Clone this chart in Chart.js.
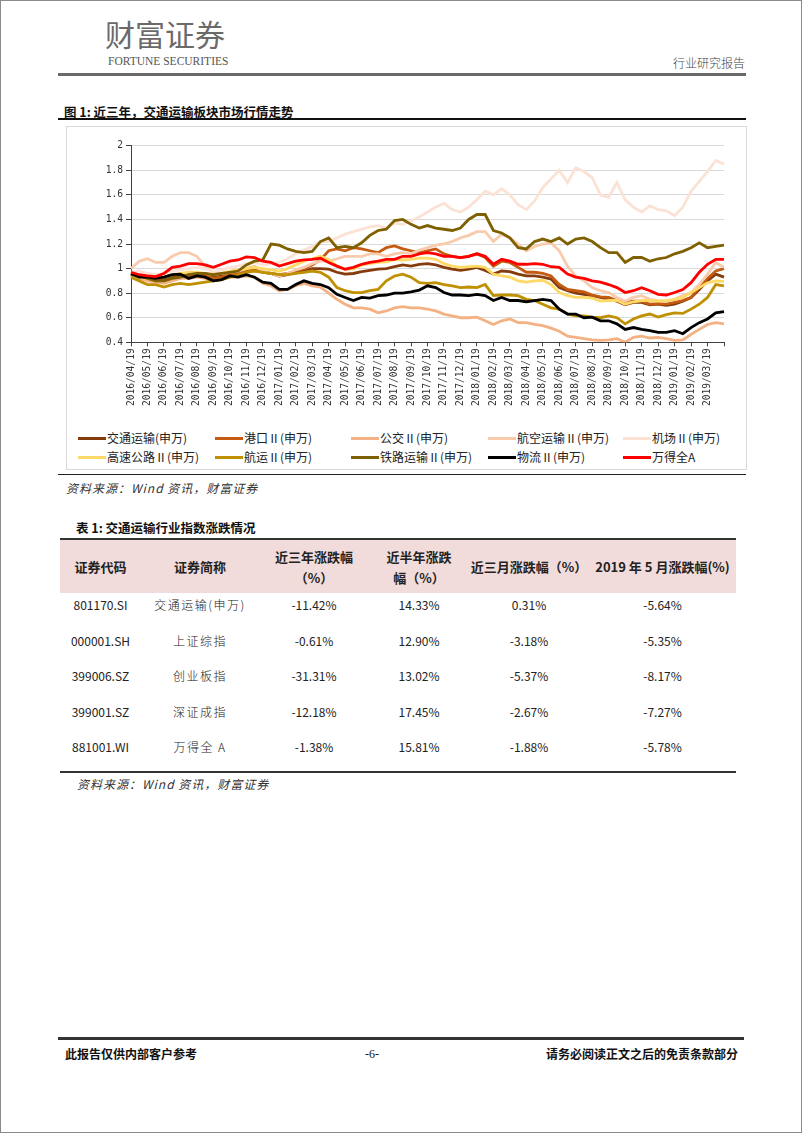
<!DOCTYPE html>
<html>
<head>
<meta charset="utf-8">
<script src="https://cdn.jsdelivr.net/npm/chart.js@4.4.1/dist/chart.umd.min.js"></script>
<style>
body { margin:0; background:#fff; font-family:"Noto Sans CJK SC", sans-serif; color:#222; }
#page { position:relative; width:800px; height:1131px; border:1px solid #8a8a8a; overflow:hidden; background:#fff; }
.abs { position:absolute; white-space:nowrap; }
.rule { position:absolute; }
#chartbox { position:absolute; left:65px; top:125px; width:679px; height:342px; border:1px solid #d9d9d9; }
#myChart { position:absolute; left:0px; top:0px; }
.leg { position:absolute; font-size:12px; line-height:16px; color:#222; white-space:nowrap; }
.leg span.sw { display:inline-block; width:28px; height:3px; vertical-align:middle; margin-right:1px; position:relative; top:-1px; }
.src { font-size:12px; font-style:italic; letter-spacing:1px; color:#333; }
table { border-collapse:collapse; table-layout:fixed; }
th { background:#f2dcdb; font-size:13px; font-weight:700; line-height:21px; height:53px; padding:0; text-align:center; vertical-align:middle; }
td { font-size:12px; line-height:16px; height:35.5px; padding:4px 0 0 0; text-align:center; vertical-align:top; box-sizing:border-box; }
td.nm { letter-spacing:1.5px; font-weight:300; }
</style>
</head>
<body>
<div id="page">
  <div class="abs" style="left:104px;top:15px;font-size:30px;line-height:34px;color:#6a6a6a;">财富证券</div>
  <div class="abs" style="left:107px;top:53px;font-family:'Liberation Serif',serif;font-size:11.5px;line-height:14px;color:#555;">FORTUNE SECURITIES</div>
  <div class="abs" style="left:672px;top:54px;font-size:12px;line-height:16px;color:#444;font-weight:300;">行业研究报告</div>
  <div class="rule" style="left:57px;top:72px;width:688px;height:3px;background:#6a6a6a;"></div>

  <div class="abs" style="left:63px;top:102px;font-size:12.5px;line-height:17px;font-weight:700;color:#111;">图 1: 近三年，交通运输板块市场行情走势</div>
  <div class="rule" style="left:57px;top:117px;width:688px;height:2px;background:#111;"></div>

  <div id="chartbox">
    <canvas id="myChart" width="678" height="300"></canvas>
    <div id="legend"></div>
  </div>

  <div class="rule" style="left:57px;top:473px;width:688px;height:1px;background:#222;"></div>
  <div class="abs src" style="left:65px;top:479px;line-height:16px;">资料来源：Wind 资讯，财富证券</div>

  <div class="abs" style="left:75px;top:518px;font-size:12.5px;line-height:17px;font-weight:700;color:#111;">表 1: 交通运输行业指数涨跌情况</div>
  <div class="rule" style="left:59px;top:537px;width:676px;height:2px;background:#333;"></div>
  <table id="tbl" class="abs" style="left:59px;top:539px;width:676px;"></table>
  <div class="rule" style="left:59px;top:770px;width:676px;height:2px;background:#333;"></div>
  <div class="abs src" style="left:76px;top:775px;line-height:16px;">资料来源：Wind 资讯，财富证券</div>

  <div class="rule" style="left:57px;top:1036px;width:686px;height:3px;background:#333;"></div>
  <div class="abs" style="left:64px;top:1045px;font-size:12px;line-height:16px;font-weight:700;color:#111;">此报告仅供内部客户参考</div>
  <div class="abs" style="left:364px;top:1045px;font-family:'Liberation Serif',serif;font-size:12px;line-height:16px;color:#111;">-6-</div>
  <div class="abs" style="left:545px;top:1045px;font-size:12px;line-height:16px;font-weight:700;color:#111;">请务必阅读正文之后的免责条款部分</div>
</div>

<script>
// x categories, half-month steps
var dates = [
  '2016/04/19','2016/05/04','2016/05/19','2016/06/04','2016/06/19','2016/07/04','2016/07/19','2016/08/04',
  '2016/08/19','2016/09/04','2016/09/19','2016/10/04','2016/10/19','2016/11/04','2016/11/19','2016/12/04',
  '2016/12/19','2017/01/04','2017/01/19','2017/02/04','2017/02/19','2017/03/04','2017/03/19','2017/04/04',
  '2017/04/19','2017/05/04','2017/05/19','2017/06/04','2017/06/19','2017/07/04','2017/07/19','2017/08/04',
  '2017/08/19','2017/09/04','2017/09/19','2017/10/04','2017/10/19','2017/11/04','2017/11/19','2017/12/04',
  '2017/12/19','2018/01/04','2018/01/19','2018/02/04','2018/02/19','2018/03/04','2018/03/19','2018/04/04',
  '2018/04/19','2018/05/04','2018/05/19','2018/06/04','2018/06/19','2018/07/04','2018/07/19','2018/08/04',
  '2018/08/19','2018/09/04','2018/09/19','2018/10/04','2018/10/19','2018/11/04','2018/11/19','2018/12/04',
  '2018/12/19','2019/01/04','2019/01/19','2019/02/04','2019/02/19','2019/03/04','2019/03/19','2019/04/04',
  '2019/04/19'
];

var jtys = [0.95,0.93,0.92,0.91,0.91,0.93,0.94,0.95,0.95,0.94,0.93,0.94,0.96,0.97,0.99,1.0,0.97,0.96,0.94,0.95,0.97,0.98,1.0,1.0,
  0.995,0.97,0.955,0.96,0.975,0.985,0.995,1.0,1.015,1.03,1.02,1.035,1.04,1.03,1.01,0.995,0.985,0.995,1.01,0.985,0.955,0.98,0.975,0.955,
  0.94,0.94,0.93,0.915,0.845,0.82,0.8,0.79,0.78,0.765,0.75,0.735,0.705,0.725,0.725,0.705,0.71,0.7,0.71,0.735,0.765,0.83,0.9,0.955,0.93];
var gangkou = [0.95,0.93,0.91,0.9,0.9,0.92,0.93,0.94,0.95,0.94,0.92,0.93,0.95,0.96,0.98,1.0,0.97,0.96,0.95,0.96,0.98,1.0,1.03,1.07,
  1.145,1.16,1.145,1.17,1.16,1.145,1.13,1.17,1.185,1.16,1.145,1.13,1.145,1.16,1.12,1.1,1.09,1.1,1.12,1.09,1.02,1.06,1.05,1.01,
  0.97,0.97,0.96,0.94,0.87,0.83,0.82,0.81,0.785,0.77,0.765,0.74,0.725,0.735,0.735,0.71,0.715,0.71,0.725,0.74,0.765,0.85,0.92,0.98,1.0];
var gongjiao = [0.94,0.92,0.9,0.89,0.88,0.9,0.92,0.92,0.93,0.92,0.9,0.91,0.93,0.93,0.94,0.93,0.88,0.86,0.82,0.83,0.86,0.88,0.86,0.85,
  0.8,0.75,0.71,0.68,0.68,0.67,0.64,0.655,0.68,0.69,0.68,0.68,0.67,0.655,0.63,0.615,0.6,0.6,0.605,0.575,0.545,0.575,0.59,0.56,
  0.56,0.545,0.535,0.515,0.49,0.45,0.44,0.43,0.42,0.415,0.42,0.43,0.4,0.44,0.45,0.435,0.44,0.43,0.415,0.42,0.465,0.505,0.545,0.56,0.55];
var hangkong = [1.0,1.06,1.08,1.05,1.05,1.1,1.13,1.13,1.1,1.02,0.97,0.96,0.97,0.98,1.0,1.02,0.98,0.96,0.94,0.96,0.99,1.01,1.04,1.06,
  1.06,1.08,1.1,1.1,1.1,1.12,1.12,1.1,1.12,1.13,1.12,1.15,1.17,1.19,1.2,1.22,1.25,1.27,1.3,1.3,1.22,1.28,1.25,1.2,
  1.145,1.18,1.2,1.21,1.145,1.02,0.94,0.9,0.845,0.82,0.805,0.765,0.735,0.765,0.78,0.75,0.74,0.735,0.75,0.78,0.805,0.87,0.955,1.05,1.01];
var jichang = [0.97,0.98,0.96,0.95,0.96,0.98,0.99,1.0,1.01,1.0,0.98,0.99,1.01,1.02,1.04,1.05,1.03,1.04,1.05,1.08,1.12,1.15,1.18,1.22,
  1.22,1.25,1.28,1.3,1.32,1.34,1.35,1.33,1.37,1.36,1.39,1.42,1.46,1.5,1.53,1.48,1.46,1.5,1.56,1.63,1.6,1.65,1.6,1.52,
  1.48,1.55,1.66,1.73,1.8,1.7,1.82,1.79,1.74,1.6,1.58,1.7,1.56,1.5,1.46,1.51,1.48,1.47,1.43,1.5,1.63,1.71,1.79,1.88,1.85];
var gaosu = [0.95,0.93,0.92,0.92,0.93,0.95,0.96,0.97,0.97,0.96,0.95,0.96,0.98,0.99,1.0,1.01,1.0,0.99,0.98,1.0,1.03,1.06,1.08,1.1,
  1.075,1.02,0.995,0.995,1.03,1.04,1.05,1.055,1.075,1.07,1.075,1.085,1.085,1.075,1.04,1.02,1.01,1.015,1.02,1.01,0.955,0.94,0.93,0.9,
  0.89,0.9,0.905,0.87,0.805,0.78,0.765,0.765,0.76,0.735,0.74,0.74,0.71,0.73,0.74,0.74,0.735,0.74,0.75,0.765,0.805,0.845,0.885,0.9,0.895];
var hangyun = [0.93,0.9,0.87,0.87,0.85,0.87,0.88,0.87,0.88,0.89,0.9,0.91,0.93,0.95,0.97,0.98,0.97,0.96,0.95,0.95,0.96,0.97,0.98,0.97,
  0.93,0.845,0.82,0.805,0.805,0.82,0.83,0.9,0.94,0.955,0.93,0.885,0.88,0.885,0.87,0.86,0.845,0.85,0.845,0.87,0.78,0.785,0.785,0.78,
  0.75,0.74,0.71,0.68,0.67,0.63,0.615,0.615,0.605,0.6,0.615,0.6,0.55,0.59,0.615,0.63,0.605,0.625,0.64,0.635,0.67,0.71,0.765,0.87,0.86];
var tielu = [0.95,0.94,0.92,0.9,0.9,0.92,0.93,0.95,0.96,0.96,0.95,0.96,0.97,0.98,1.03,1.06,1.07,1.2,1.19,1.16,1.14,1.13,1.14,1.22,
  1.25,1.17,1.18,1.17,1.21,1.27,1.31,1.32,1.39,1.4,1.36,1.33,1.35,1.33,1.32,1.31,1.33,1.4,1.44,1.44,1.31,1.29,1.25,1.17,
  1.16,1.22,1.24,1.22,1.25,1.2,1.24,1.25,1.22,1.17,1.13,1.13,1.05,1.09,1.09,1.06,1.08,1.09,1.12,1.14,1.17,1.21,1.17,1.18,1.19];
var wuliu = [0.96,0.93,0.93,0.92,0.93,0.95,0.955,0.92,0.94,0.93,0.9,0.91,0.94,0.93,0.95,0.93,0.89,0.88,0.83,0.83,0.87,0.9,0.88,0.87,
  0.845,0.79,0.765,0.74,0.765,0.76,0.78,0.785,0.8,0.8,0.81,0.825,0.86,0.845,0.805,0.785,0.785,0.78,0.79,0.78,0.74,0.765,0.74,0.74,
  0.73,0.74,0.75,0.74,0.67,0.63,0.63,0.6,0.605,0.575,0.575,0.55,0.505,0.52,0.505,0.495,0.48,0.48,0.495,0.47,0.52,0.56,0.59,0.64,0.65];
var wdqa = [0.97,0.95,0.94,0.935,0.96,1.01,1.02,1.04,1.04,1.03,1.01,1.035,1.06,1.07,1.095,1.09,1.06,1.05,1.02,1.04,1.06,1.07,1.075,1.085,
  1.05,1.02,0.995,1.01,1.035,1.05,1.06,1.075,1.075,1.1,1.1,1.12,1.13,1.12,1.1,1.1,1.09,1.1,1.12,1.1,1.035,1.075,1.06,1.035,
  1.035,1.04,1.035,1.015,1.01,0.955,0.93,0.92,0.9,0.89,0.87,0.845,0.805,0.82,0.845,0.82,0.79,0.785,0.805,0.83,0.885,0.97,1.035,1.075,1.075];

var seriesNames = ['交通运输(申万)','港口Ⅱ(申万)','公交Ⅱ(申万)','航空运输Ⅱ(申万)','机场Ⅱ(申万)',
  '高速公路Ⅱ(申万)','航运Ⅱ(申万)','铁路运输Ⅱ(申万)','物流Ⅱ(申万)','万得全A'];
var seriesData = [jtys, gangkou, gongjiao, hangkong, jichang, gaosu, hangyun, tielu, wuliu, wdqa];
var seriesColors = ['#843c0c','#c55a11','#f4b183','#f8cbad','#fbe2d5','#ffd966','#bf9000','#7f6000','#000000','#ff0000'];

var yTicks = { min: 0.4, max: 2, step: 0.2 };

// table
var tblHead = ['证券代码','证券简称','近三年涨跌幅<br>（%）','近半年涨跌<br>幅（%）','近三月涨跌幅（%）','2019 年 5 月涨跌幅(%)'];
var tblCodes = ['801170.SI','000001.SH','399006.SZ','399001.SZ','881001.WI'];
var tblNames = ['交通运输(申万)','上证综指','创业板指','深证成指','万得全 A'];
var chg3y = ['-11.42%','-0.61%','-31.31%','-12.18%','-1.38%'];
var chgHalf = ['14.33%','12.90%','13.02%','17.45%','15.81%'];
var chg3m = ['0.31%','-3.18%','-5.37%','-2.67%','-1.88%'];
var chgMay = ['-5.64%','-5.35%','-8.17%','-7.27%','-5.78%'];

var colW = [81,118,110,100,120,147];
var html = '<colgroup>';
colW.forEach(function(w){ html += '<col style="width:' + w + 'px">'; });
html += '</colgroup><tr>';
tblHead.forEach(function(h){ html += '<th>' + h + '</th>'; });
html += '</tr>';
for (var r = 0; r < tblCodes.length; r++) {
  html += '<tr><td>' + tblCodes[r] + '</td><td class="nm">' + tblNames[r] + '</td><td>' + chg3y[r] +
    '</td><td>' + chgHalf[r] + '</td><td>' + chg3m[r] + '</td><td>' + chgMay[r] + '</td></tr>';
}
document.getElementById('tbl').innerHTML = html;

// legend (2 rows x 5)
var legX = [11, 148, 284, 421, 556];
var legY = [303, 322];
var legHtml = '';
for (var i = 0; i < seriesNames.length; i++) {
  legHtml += '<div class="leg" style="left:' + legX[i % 5] + 'px;top:' + legY[Math.floor(i / 5)] + 'px;">' +
    '<span class="sw" style="background:' + seriesColors[i] + '"></span>' + seriesNames[i] + '</div>';
}
document.getElementById('legend').innerHTML = legHtml;

var datasets = [];
for (var i = 0; i < seriesNames.length; i++) {
  datasets.push({
    label: seriesNames[i],
    data: seriesData[i],
    borderColor: seriesColors[i],
    backgroundColor: 'transparent',
    borderWidth: 2.8,
    pointRadius: 0,
    tension: 0,
    order: seriesNames.length - i
  });
}

var monoFont = { family: 'DejaVu Sans Mono', size: 9.6 };

var ctx = document.getElementById('myChart').getContext('2d');
var myChart = new Chart(ctx, {
  type: 'line',
  data: { labels: dates, datasets: datasets },
  options: {
    responsive: false,
    animation: false,
    layout: { padding: { top: 18.7, right: 21, left: 0, bottom: 0 } },
    plugins: { legend: { display: false }, tooltip: { enabled: false } },
    scales: {
      x: {
        afterFit: function(s) { s.height = 84.7; },
        grid: {
          drawOnChartArea: false,
          tickLength: 4,
          color: function(c) {
            return (dates[c.index] && dates[c.index].slice(-3) === '/19') ? '#404040' : 'rgba(0,0,0,0)';
          }
        },
        border: { display: true, color: '#404040', width: 1 },
        ticks: {
          autoSkip: false,
          maxRotation: 90,
          minRotation: 90,
          padding: 2,
          color: '#333',
          font: monoFont,
          callback: function(value, index) {
            var l = dates[index];
            return (l.slice(-3) === '/19' && index < dates.length - 1) ? l : '';
          }
        }
      },
      y: {
        min: yTicks.min,
        max: yTicks.max,
        afterFit: function(s) { s.width = 64; },
        grid: { color: '#d9d9d9', tickColor: '#404040', tickLength: 5, lineWidth: 1 },
        border: { display: true, color: '#404040', width: 1 },
        ticks: {
          stepSize: yTicks.step,
          padding: 3,
          color: '#333',
          font: monoFont,
          callback: function(value) { return String(Math.round(value * 10) / 10); }
        }
      }
    }
  }
});
</script>
</body>
</html>
